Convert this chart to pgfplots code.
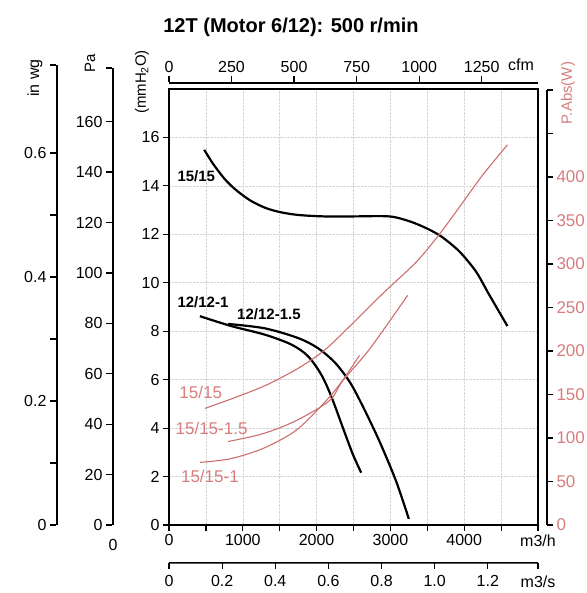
\documentclass[border=0pt]{standalone}
\usepackage{pgfplots}
\pgfplotsset{compat=1.18}
\usepackage{fontspec}
\setmainfont{Liberation Sans}
\definecolor{pinkline}{RGB}{205,110,110}
\definecolor{pinktxt}{RGB}{215,125,125}
\definecolor{gridc}{RGB}{212,212,212}
\pgfplotsset{
  every axis/.append style={
    scale only axis,
    /pgf/number format/assume math mode=true,
    /pgf/number format/1000 sep={},
    tick label style={font=\fontsize{16}{16}\selectfont},
    tick style={black, line width=1.2pt},
    major tick length=6pt,
    axis line style={-, line width=1pt},
  }
}
\begin{document}
\begin{tikzpicture}
\useasboundingbox (0,0) rectangle (586pt,593pt);
\node[font=\bfseries\fontsize{20}{20}\selectfont] at (291pt,566pt) {12T (Motor 6/12): 500 r/min};

% main axis (mmH2O vs m3/h)
\begin{axis}[
  at={(169pt,68pt)}, anchor=south west,
  width=369pt, height=436pt,
  xmin=0,xmax=5000,ymin=0,ymax=18,
  xtick={0,500,...,5000},
  xticklabels={0,,1000,,2000,,3000,,4000,,m3/h},
  ytick={0,2,...,16},
  xtick pos=bottom, ytick pos=left, tick align=outside,
  grid=major, grid style={gridc, densely dotted, line width=0.6pt},
  axis line style={-, line width=1.6pt},
  clip=false,
]
\addplot[black, line width=2.2pt, smooth, tension=0.5] coordinates {
(477,15.49)(600,14.9)(750,14.3)(900,13.85)(1100,13.4)(1300,13.1)(1500,12.92)(1750,12.8)(2100,12.74)(2500,12.74)(2986,12.74)(3257,12.54)(3482,12.26)(3685,11.92)(3932,11.3)(4158,10.47)(4338,9.51)(4586,8.21)};
\addplot[black, line width=2.2pt, smooth, tension=0.5] coordinates {
(419,8.62)(847,8.21)(1297,7.86)(1658,7.45)(1883,6.97)(2063,6.21)(2200,5.3)(2370,3.9)(2491,2.92)(2604,2.16)};
\addplot[black, line width=2.2pt, smooth, tension=0.5] coordinates {
(802,8.3)(1297,8.12)(1748,7.72)(2018,7.3)(2250,6.7)(2450,5.9)(2626,4.9)(2851,3.46)(3077,1.81)(3250,0.25)};
\node[font=\bfseries\fontsize{15}{15}\selectfont] at (axis cs:370,14.4) {15/15};
\node[font=\bfseries\fontsize{15}{15}\selectfont] at (axis cs:460,9.2) {12/12-1};
\node[font=\bfseries\fontsize{15}{15}\selectfont] at (axis cs:1354,8.69) {12/12-1.5};
\node[pinktxt, font=\fontsize{17}{17}\selectfont] at (axis cs:430,5.46) {15/15};
\node[pinktxt, font=\fontsize{17}{17}\selectfont] at (axis cs:577,3.98) {15/15-1.5};
\node[pinktxt, font=\fontsize{17}{17}\selectfont] at (axis cs:554,2.02) {15/15-1};
\end{axis}

% power curves (W)
\begin{axis}[at={(169pt,68pt)}, anchor=south west, width=369pt, height=435pt,
  xmin=0,xmax=5000,ymin=0,ymax=500, hide axis]
\addplot[pinkline, line width=1.1pt, smooth, tension=0.5] coordinates {
(486,134)(847,145)(1297,160)(1748,180)(2108,201)(2480,231)(2896,266)(3347,302)(3662,334)(3932,365)(4248,402)(4586,437)};
\addplot[pinkline, line width=1.1pt, smooth, tension=0.5] coordinates {
(802,96)(1275,105)(1725,120)(2176,143)(2356,166)(2716,202)(3234,264)};
\addplot[pinkline, line width=1.1pt, smooth, tension=0.5] coordinates {
(419,72)(824,76)(1275,88)(1725,109)(2131,143)(2351,166)(2581,195)};
\end{axis}

% W scale
\begin{axis}[at={(547pt,68pt)}, anchor=south east, width=1pt, height=435pt,
  xmin=0,xmax=1,ymin=0,ymax=500,
  hide x axis, ytick pos=right, yticklabel pos=right, tick align=outside,
  ytick={0,50,...,500}, yticklabels={0,50,100,150,200,250,300,350,400,,},
  yticklabel style={pinktxt, font=\fontsize{17}{17}\selectfont},
]
\end{axis}

% Pa scale
\begin{axis}[at={(113pt,68pt)}, anchor=south east, width=1pt, height=457pt,
  xmin=0,xmax=1,ymin=0,ymax=181.3,
  hide x axis, ytick pos=left, tick align=outside,
  ytick={0,20,...,160,181.3}, yticklabels={0,20,40,60,80,100,120,140,160,},
]
\end{axis}

% in wg scale
\begin{axis}[at={(57pt,68pt)}, anchor=south east, width=1pt, height=460pt,
  xmin=0,xmax=1,ymin=0,ymax=0.742,
  hide x axis, ytick pos=left, tick align=outside,
  ytick={0,0.1,0.2,0.3,0.4,0.5,0.6,0.742}, yticklabels={0,,0.2,,0.4,,0.6,},
]
\end{axis}

% cfm scale
\begin{axis}[at={(169pt,511pt)}, anchor=north west, width=369pt, height=1pt,
  xmin=0,xmax=1475,ymin=0,ymax=1,
  hide y axis, xtick pos=top, xticklabel pos=upper, tick align=outside,
  xtick={0,250,...,1250}, axis line style={-, line width=0.8pt},
]
\end{axis}

% m3/s scale
\begin{axis}[at={(169pt,30pt)}, anchor=south west, width=369pt, height=1pt,
  xmin=0,xmax=1.3889,ymin=0,ymax=1,
  hide y axis, xtick pos=bottom, xticklabel pos=lower, tick align=outside,
  xtick={0,0.2,0.4,0.6,0.8,1.0,1.2,1.3889},
  xticklabels={0,0.2,0.4,0.6,0.8,1.0,1.2,m3/s},
  xticklabel style={yshift=-3pt},
  axis line style={-, line width=0.8pt},
]
\end{axis}

\node[font=\fontsize{16}{16}\selectfont] at (113pt,48pt) {0};
\node[font=\fontsize{15}{15}\selectfont, rotate=90] at (142pt,511pt) {(mmH\textsubscript{2}O)};
\node[font=\fontsize{15}{15}\selectfont, rotate=90] at (90pt,530pt) {Pa};
\node[font=\fontsize{16}{16}\selectfont, rotate=90] at (35pt,515pt) {in wg};
\node[pinktxt, font=\fontsize{15}{15}\selectfont, rotate=90] at (568pt,500pt) {P.Abs(W)};
\node[font=\fontsize{16}{16}\selectfont] at (521pt,528pt) {cfm};
\end{tikzpicture}
\end{document}
